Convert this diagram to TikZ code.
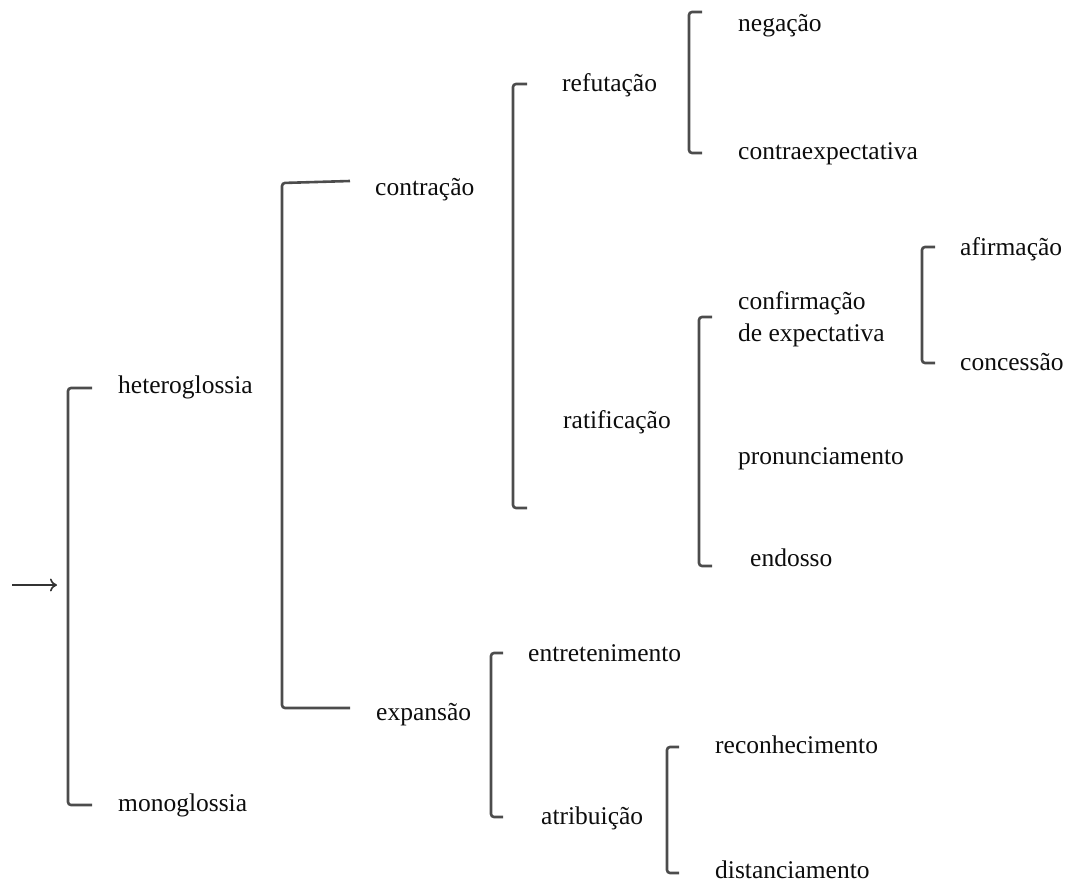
\documentclass[tikz,border=0pt]{standalone}
\usepackage{fontspec}
\setmainfont{Liberation Serif}
\usetikzlibrary{arrows.meta}
\begin{document}
\begin{tikzpicture}[x=1pt,y=-1pt,
  lbl/.style={anchor=mid west, inner sep=0pt, yshift=-4pt, font=\fontsize{25.5}{28}\selectfont, text=black!95},
  brk/.style={draw=black!70, line width=2.6pt, rounded corners=3pt},
  arr/.style={draw=black!80, line width=1.6pt, -{To[length=7pt,width=13pt]}}]
\useasboundingbox (0,0) rectangle (1071,884);
% labels
\node[lbl] (hetero) at (118,387) {heteroglossia};
\node[lbl] (mono) at (118,805) {monoglossia};
\node[lbl] (contr) at (375,189) {contração};
\node[lbl] (expan) at (376,714) {expansão};
\node[lbl] (refut) at (562,85) {refutação};
\node[lbl] (ratif) at (563,422) {ratificação};
\node[lbl] (neg) at (738,25) {negação};
\node[lbl] (contra) at (738,153) {contraexpectativa};
\node[lbl] (conf1) at (738,303) {confirmação};
\node[lbl] (conf2) at (738,335) {de expectativa};
\node[lbl] (afirm) at (960,249) {afirmação};
\node[lbl] (conc) at (960,364) {concessão};
\node[lbl] (pron) at (738,458) {pronunciamento};
\node[lbl] (endo) at (750,560) {endosso};
\node[lbl] (entre) at (528,655) {entretenimento};
\node[lbl] (atrib) at (541,818) {atribuição};
\node[lbl] (recon) at (715,747) {reconhecimento};
\node[lbl] (dist) at (715,872) {distanciamento};
% bracket end points
\coordinate (b1t) at (92,388);  \coordinate (b1b) at (92,805);
\coordinate (b2t) at (350,181); \coordinate (b2b) at (350,708);
\coordinate (b3t) at (527,84);  \coordinate (b3b) at (527,508);
\coordinate (b4t) at (702,12);  \coordinate (b4b) at (702,153);
\coordinate (b5t) at (712,317); \coordinate (b5b) at (712,566);
\coordinate (b6t) at (935,247); \coordinate (b6b) at (935,363);
\coordinate (b7t) at (503,653); \coordinate (b7b) at (503,817);
\coordinate (b8t) at (679,747); \coordinate (b8b) at (679,873);
% brackets
\draw[brk] (b1t) -- ++(-24,0) |- (b1b);
\draw[brk] (b2t) -- ++(-68,2) |- (b2b);
\draw[brk] (b3t) -- ++(-14,0) |- (b3b);
\draw[brk] (b4t) -- ++(-13,0) |- (b4b);
\draw[brk] (b5t) -- ++(-13,0) |- (b5b);
\draw[brk] (b6t) -- ++(-13,0) |- (b6b);
\draw[brk] (b7t) -- ++(-12,0) |- (b7b);
\draw[brk] (b8t) -- ++(-12,0) |- (b8b);
% entry arrow
\coordinate (ain) at (12,585);
\coordinate (aout) at (57,585);
\draw[arr] (ain) -- (aout);
\end{tikzpicture}
\end{document}
